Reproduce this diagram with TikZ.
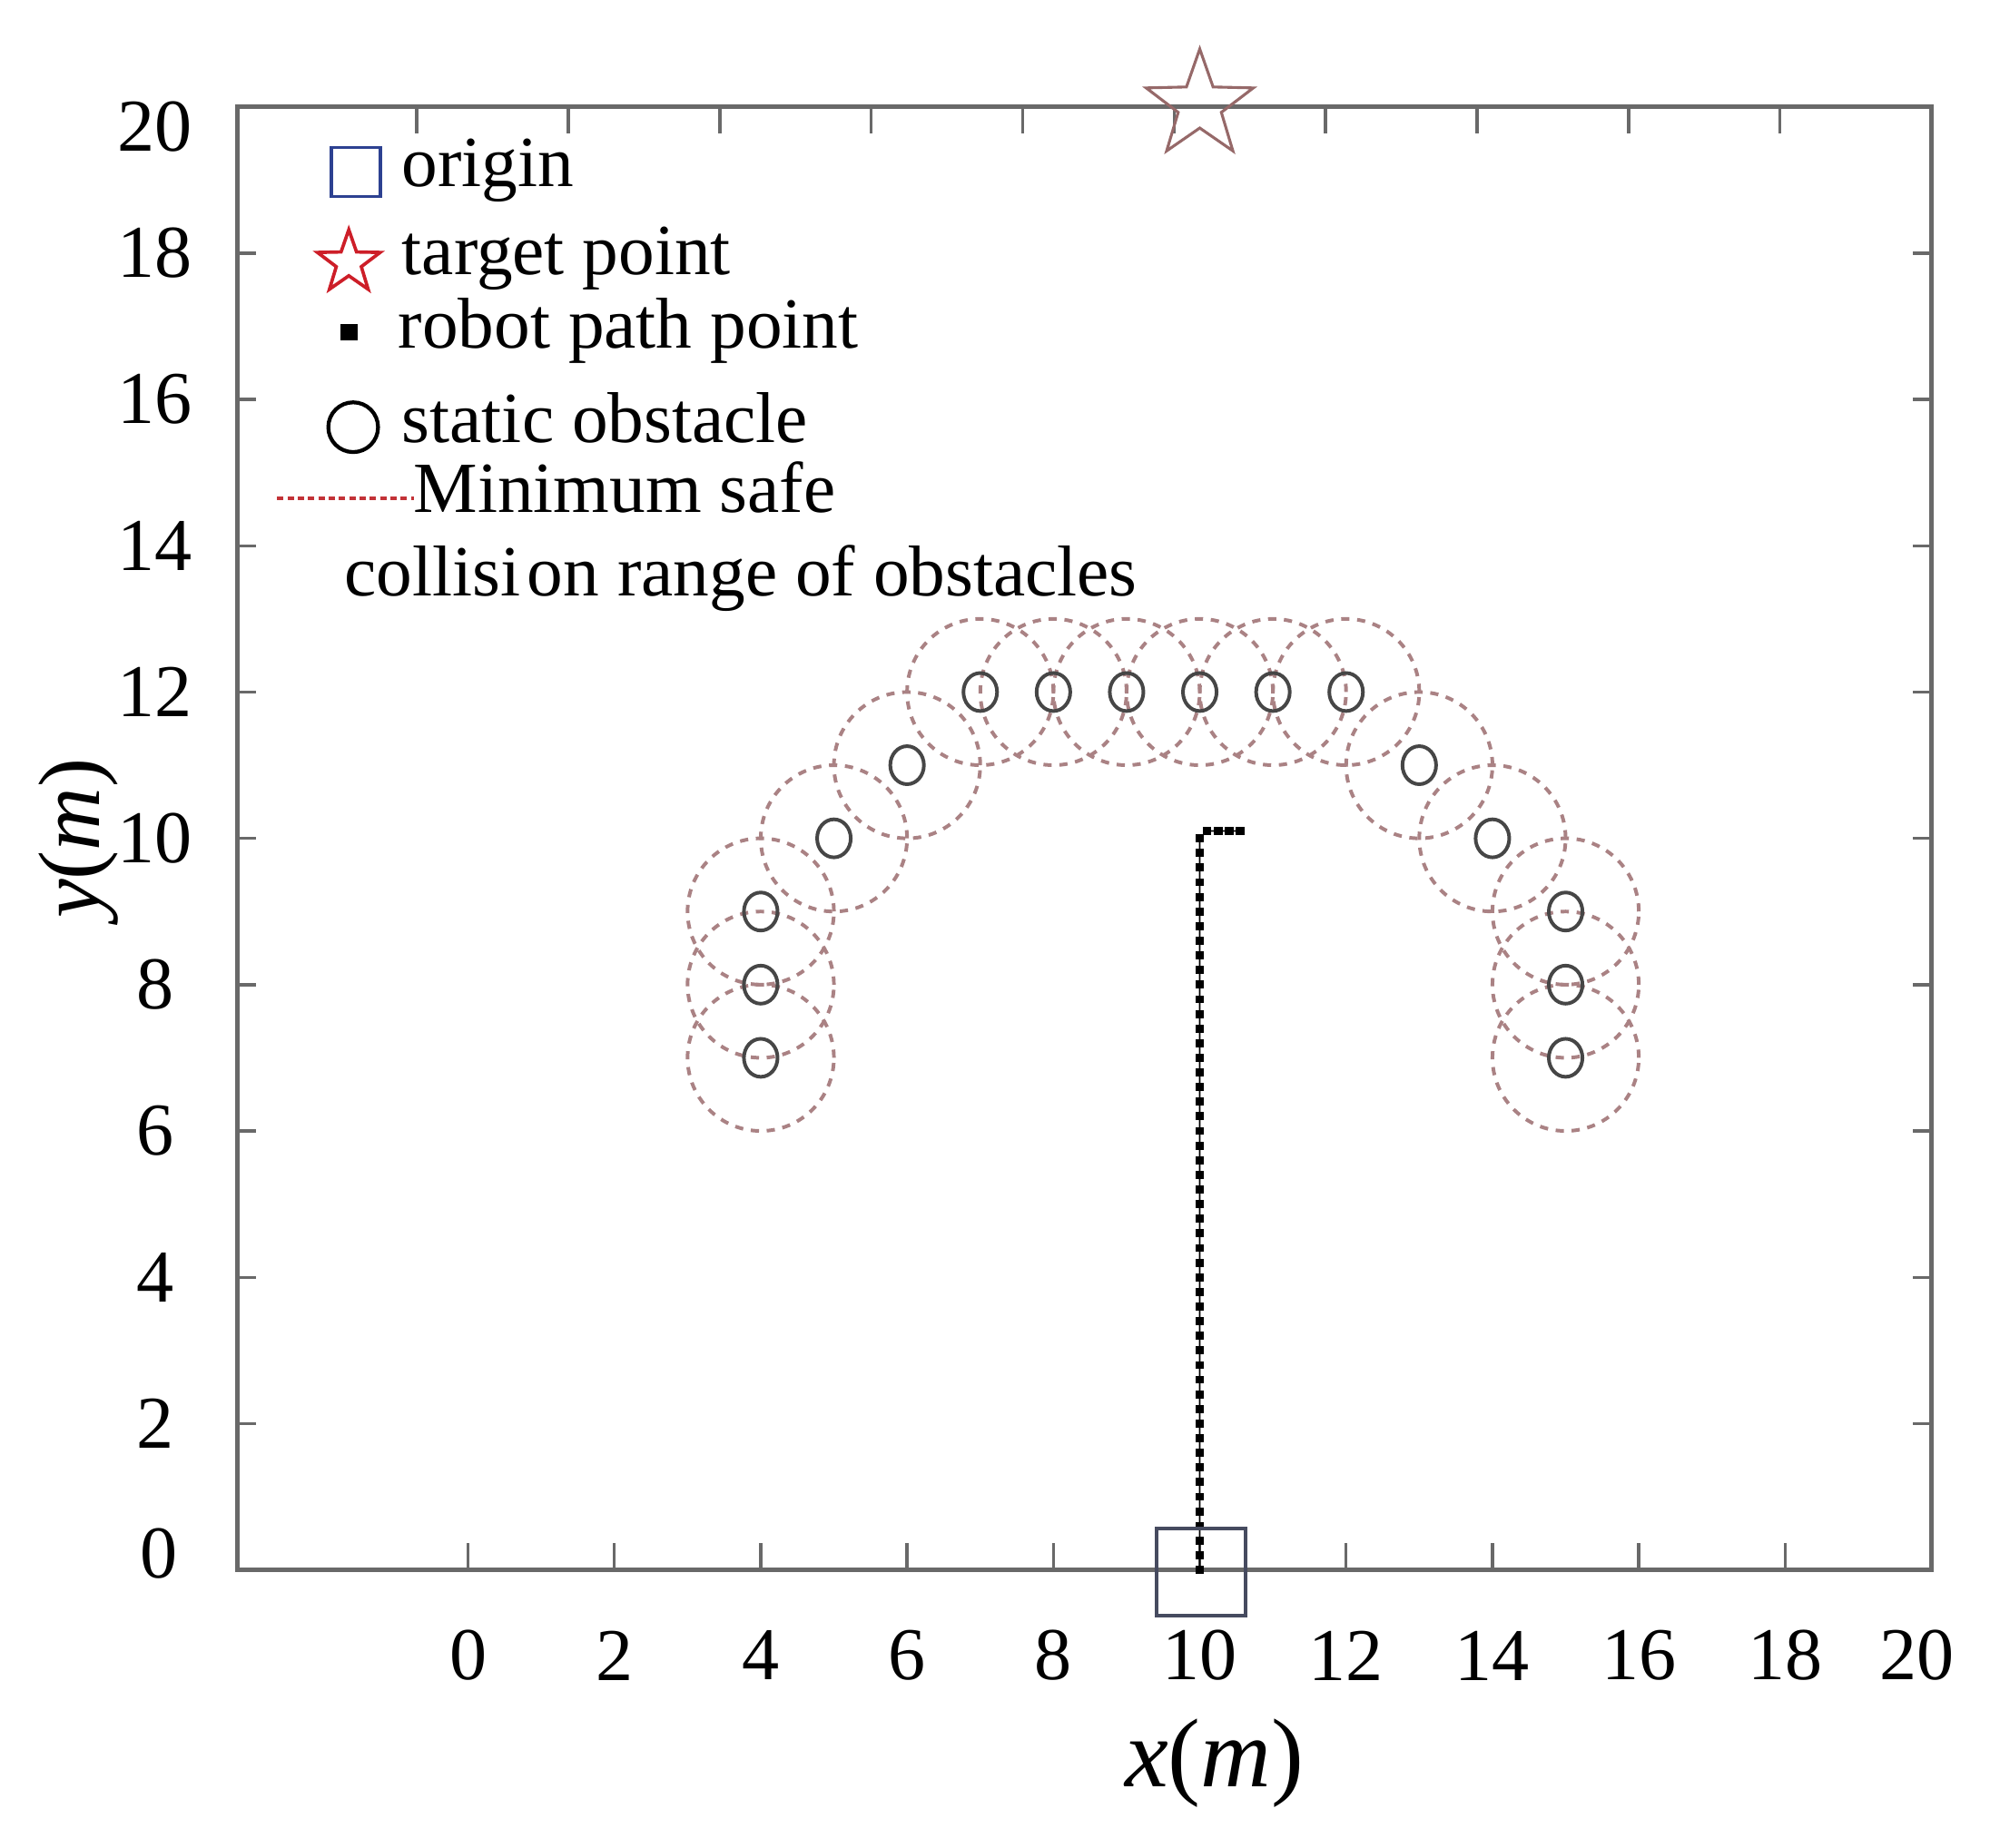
\documentclass[tikz,border=0pt]{standalone}
\usepackage{fontspec}
\setmainfont{Liberation Serif}
\definecolor{framegray}{RGB}{105,105,105}
\definecolor{safecol}{RGB}{170,130,132}
\definecolor{obscol}{RGB}{70,70,70}
\definecolor{boxcol}{RGB}{70,75,95}
\definecolor{legblue}{RGB}{45,65,145}
\definecolor{legred}{RGB}{205,30,40}
\definecolor{starcol}{RGB}{150,105,105}
\definecolor{legdash}{RGB}{195,50,55}
\begin{document}
\begin{tikzpicture}[x=1cm,y=1cm,
  ticklab/.style={font=\fontsize{29}{31}\selectfont, inner sep=0pt},
  legtext/.style={font=\fontsize{28}{30}\selectfont, anchor=base west, inner sep=0pt},
  safe/.style={draw=safecol, line width=1.4pt, dash pattern=on 3.2pt off 3pt},
  obstacle/.style={draw=obscol, line width=1.4pt},
  frameline/.style={draw=framegray, line width=1.6pt},
  tickline/.style={draw=framegray, line width=1.2pt},
  pathdot/.style={fill=black}
]
\useasboundingbox (-6.397,-3.80) rectangle (20.80,21.46);

% safety ranges
\foreach \p in {(4,7),(4,8),(4,9),(5,10),(6,11),(7,12),(8,12),(9,12),(10,12),(11,12),(12,12),(13,11),(14,10),(15,9),(15,8),(15,7)}
  \draw[safe] \p circle (1);

% obstacles
\foreach \p in {(4,7),(4,8),(4,9),(5,10),(6,11),(7,12),(8,12),(9,12),(10,12),(11,12),(12,12),(13,11),(14,10),(15,9),(15,8),(15,7)}
  \draw[obstacle] \p ellipse (0.23 and 0.26);

% frame and ticks
\draw[frameline] (-3.15,0) rectangle (20,20);
\foreach \x in {0,2,...,18} \draw[tickline] (\x,0) -- (\x,0.37);
\foreach \k in {0,...,9} \draw[tickline] ({-0.7+2.07*\k},20) -- ++(0,-0.37);
\foreach \y in {2,4,...,18} {
  \draw[tickline] (-3.15,\y) -- ++(0.25,0);
  \draw[tickline] (20,\y) -- ++(-0.25,0);
}

% tick labels
\foreach \x in {0,2,...,18} \node[ticklab] (xl\x) at (\x,-1.17) {\x};
\node[ticklab] (xl20) at (19.8,-1.17) {20};
\foreach \y in {2,4,...,18} \node[ticklab] (yl\y) at (-4.28,\y) {\y};
\node[ticklab] (yl20) at (-4.28,19.73) {20};
\node[ticklab] (yl0) at (-4.22,0.22) {0};

% axis labels
\node[font=\fontsize{38}{40}\selectfont, inner sep=0pt] (xlab) at (10.2,-2.64) {\textit{x}(\textit{m})};
\node[font=\fontsize{34}{36}\selectfont, inner sep=0pt, rotate=90] (ylab) at (-5.32,10.0) {\textit{y}(\textit{m})};

% robot path
\coordinate (pstart) at (10,0);
\coordinate (pcorner) at (10,10.0);
\coordinate (pend) at (10.55,10.1);
\draw[black, line width=0.6pt] (pstart) -- (pcorner) -- (10.1,10.1) -- (pend);
\foreach \i in {0,...,50} \fill[pathdot] (10,{0.2*\i}) +(-0.055,-0.055) rectangle +(0.055,0.055);
\foreach \xx in {10.1,10.25,10.4,10.55} \fill[pathdot] (\xx,10.1) +(-0.06,-0.06) rectangle +(0.06,0.06);

% origin box
\draw[boxcol, line width=1.4pt] (9.41,-0.63) rectangle (10.62,0.57);

% target star
\draw[starcol, line width=1.1pt, shift={(10,20.02)}] (90:0.77) -- (126:0.31) -- (162:0.77) -- (198:0.31) -- (234:0.77) -- (270:0.31) -- (306:0.77) -- (342:0.31) -- (18:0.77) -- (54:0.31) -- cycle;

% legend
\draw[legblue, line width=1.2pt] (-1.87,18.77) rectangle (-1.20,19.44);
\node[legtext] (lorigin) at (-0.91,18.91) {origin};
\draw[legred, line width=1.3pt, shift={(-1.63,17.87)}] (90:0.45) -- (126:0.18) -- (162:0.45) -- (198:0.18) -- (234:0.45) -- (270:0.18) -- (306:0.45) -- (342:0.18) -- (18:0.45) -- (54:0.18) -- cycle;
\node[legtext] (ltarget) at (-0.91,17.71) {target point};
\fill[black] (-1.75,16.81) rectangle (-1.51,17.03);
\node[legtext] (lpath) at (-0.96,16.70) {robot path point};
\draw[black, line width=1.5pt] (-1.57,15.62) circle (0.34);
\node[legtext] (lobs) at (-0.91,15.41) {static obstacle};
\coordinate (dashA) at (-2.61,14.65);
\coordinate (dashB) at (-0.74,14.65);
\draw[legdash, line width=1.3pt, dash pattern=on 2.5pt off 1.5pt] (dashA) -- (dashB);
\node[legtext] (lmin) at (-0.75,14.46) {Minimum safe};
\node[legtext] (lcoll) at (-1.70,13.31) {collisi\hspace{0.1em}on range of obstacles};
\end{tikzpicture}
\end{document}
